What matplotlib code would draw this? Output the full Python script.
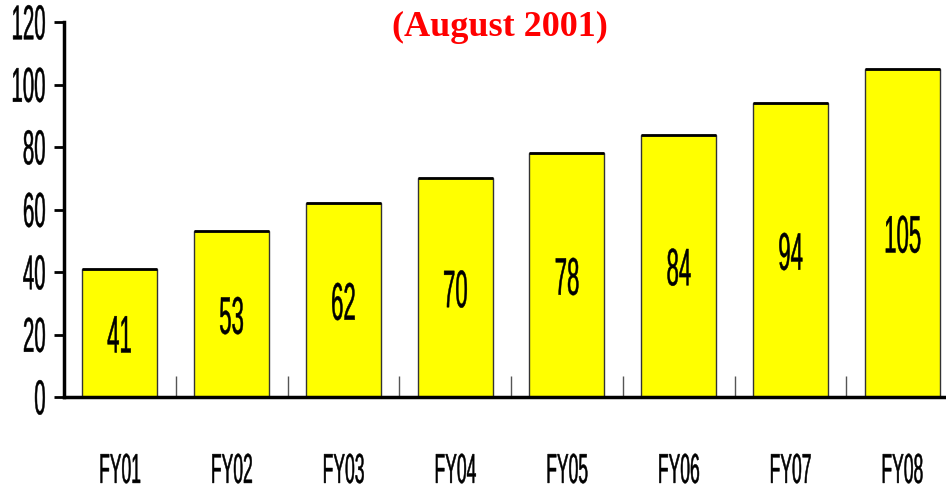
import matplotlib
matplotlib.use('Agg')
import matplotlib.pyplot as plt
from matplotlib import patheffects
from matplotlib.transforms import Affine2D
import numpy as np

# data
years = ['FY01', 'FY02', 'FY03', 'FY04', 'FY05', 'FY06', 'FY07', 'FY08']
values = [41, 53, 62, 70, 78, 84, 94, 105]
y_ticks = [0, 20, 40, 60, 80, 100, 120]


class Squeeze(patheffects.AbstractPathEffect):
    """Draw text in a tall condensed look: scale the glyphs about the ink center
    (or right edge), and thicken them a little."""

    def __init__(self, sx=0.42, sy=1.0, anchor='center', stroke=0.35):
        super().__init__()
        self.sx = sx
        self.sy = sy
        self.anchor = anchor
        self.stroke = stroke

    def draw_path(self, renderer, gc, tpath, affine, rgbFace=None):
        bb = tpath.get_extents(affine)
        x0 = bb.x1 if self.anchor == 'right' else (bb.x0 + bb.x1) / 2
        y0 = (bb.y0 + bb.y1) / 2
        sq = Affine2D().translate(-x0, -y0).scale(self.sx, self.sy).translate(x0, y0)
        gc0 = renderer.new_gc()
        gc0.copy_properties(gc)
        gc0.set_linewidth(self.stroke)
        gc0.set_foreground(rgbFace)
        renderer.draw_path(gc0, tpath, affine + sq, rgbFace)
        gc0.restore()


sans = ['Liberation Sans', 'DejaVu Sans']

fig = plt.figure(figsize=(9.46, 4.94), dpi=100)
ax = fig.add_axes([64 / 946, 1 - 397 / 494, (958 - 64) / 946, (397 - 22) / 494])

x = np.arange(len(years))
bars = ax.bar(x, values, width=0.67, color='#ffff00', edgecolor='#333333', linewidth=1.0)

# heavier top edge on each bar
for b in bars:
    ax.plot([b.get_x(), b.get_x() + b.get_width()], [b.get_height()] * 2,
            color='black', lw=2.0, solid_capstyle='butt')

# value labels in the middle of each bar
for xi, v in zip(x, values):
    ax.annotate(str(v), (xi, v / 2), xytext=(0, -4), textcoords='offset points',
                ha='center', va='center', fontsize=38, family=sans, color='black',
                path_effects=[Squeeze(0.42)])

ax.set_xlim(-0.5, len(years) - 0.5)
ax.set_ylim(0, 120)
ax.set_yticks(y_ticks)
ylabels = ax.set_yticklabels([str(t) for t in y_ticks], family=sans, fontsize=20)
for t in ylabels:
    t.set_path_effects([Squeeze(0.735, 1.76, anchor='right')])
ax.tick_params(axis='y', direction='out', length=7, width=2, pad=6)

# category labels below, ticks between the bars pointing up
ax.set_xticks(x)
xlabels = ax.set_xticklabels(years, family=sans, fontsize=22)
for t in xlabels:
    t.set_path_effects([Squeeze(0.573, 1.37)])
ax.tick_params(axis='x', length=0, pad=42.5)
ax.set_xticks(np.arange(len(years) - 1) + 0.5, minor=True)
ax.tick_params(axis='x', which='minor', direction='in', length=15, width=1, color='#555555')

for s in ['top', 'right']:
    ax.spines[s].set_visible(False)
ax.spines['left'].set_linewidth(2.5)
ax.spines['bottom'].set_linewidth(2.5)

fig.text(500 / 946, 1 - 27 / 494, '(August 2001)', ha='center', va='center',
         fontsize=26, fontweight='bold', color='red', family='Liberation Serif')

fig.savefig('out.png', dpi=100)
